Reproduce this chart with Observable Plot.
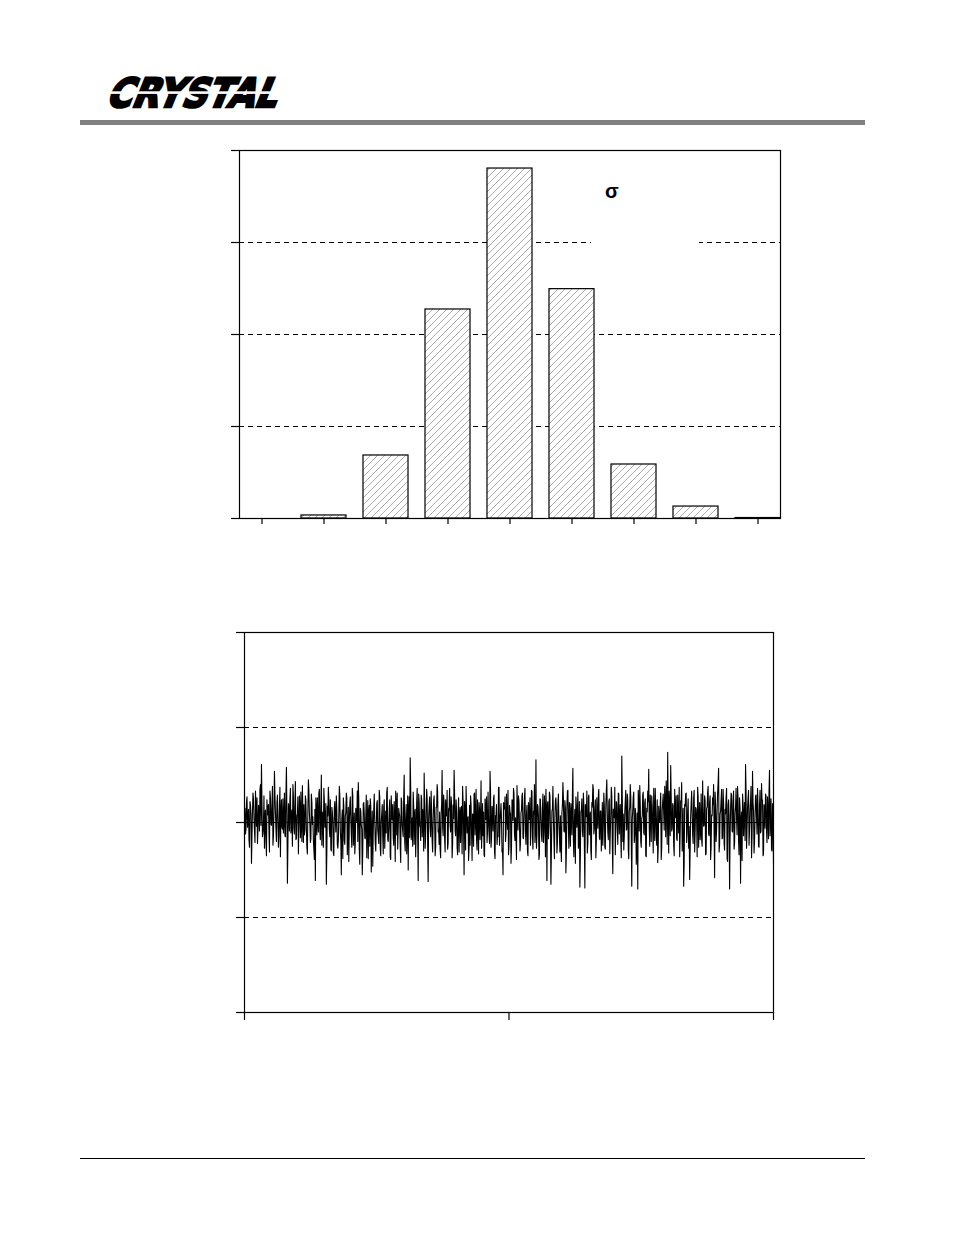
<!DOCTYPE html>
<html><head><meta charset="utf-8">
<script src="https://cdn.jsdelivr.net/npm/d3@7"></script>
<script src="https://cdn.jsdelivr.net/npm/@observablehq/plot@0.6"></script>
<style>
html,body{margin:0;padding:0;background:#fff;}
#page{position:relative;width:954px;height:1235px;overflow:hidden;background:#fff;font-family:"Liberation Sans",Arial,sans-serif;}
.abs{position:absolute;display:block;}
</style></head><body><div id="page">
<svg class="abs" style="left:0;top:0" width="954" height="118">
  <g transform="translate(105,107) skewX(-22)">
    <text x="0" y="0" font-family="DejaVu Sans, sans-serif" font-size="40" font-weight="bold" textLength="170" lengthAdjust="spacingAndGlyphs" fill="#000" stroke="#000" stroke-width="2.6" stroke-linejoin="miter">CRYSTAL</text>
  </g>
  <rect x="95" y="91.3" width="200" height="2.6" fill="#fff"></rect>
</svg>
<div class="abs" style="left:80px;top:120px;width:785px;height:5px;background:#808080"></div>
<div class="abs" style="left:80px;top:1158px;width:785px;height:1px;background:#000"></div>
</div>
<script>
// Histogram: code bins and counts
const codes = ["-4", "-3", "-2", "-1", "0", "1", "2", "3", "4"];
const counts = [0, 33, 685, 2272, 3804, 2493, 587, 130, 5];
const histYTicks = [0, 1000, 2000, 3000, 4000];
const histGrid = [1000, 2000, 3000];

// Noise trace: samples at whole steps
const noise = [
  8, -12, 21, -5, 14, -26, 18, -43, 12, 25, -9, 33, -4, -22, 18, -9, 40, 61, -15, -2,
  -27, 13, -35, 8, 19, -31, 26, -3, 38, -14, 54, 11, -20, 29, -26, 17, -36, 24, -7, -11,
  31, -15, 58, -64, 20, -9, 36, -2, -25, 27, -12, 43, -17, 9, -33, 28, -16, -4, 39, -21,
  -13, 28, -6, -33, 45, 10, -21, 30, -2, -18, -39, -61, 14, 26, -10, 35, -18, 50, 8, -26,
  22, -5, -65, 17, 37, -7, 24, -30, 11, -32, 15, 4, 28, -23, -19, 38, -9, -55, 13, 26,
  -19, 7, 31, -34, 16, -2, 27, -12, 36, -24, 10, -21, 6, 33, 42, -29, 15, -3, -55, 20,
  9, -17, 29, -4, -38, 18, 25, -52, 12, -8, 30, -21, -6, 23, -14, 34, -27, 1, 19, -33,
  24, -8, -11, 37, -20, 13, -36, 28, 3, -16, 22, -41, 17, 31, -7, 10, -25, 26, -2, -15,
  50, -30, 19, -12, -50, 27, 68, -18, 5, 32, -23, 14, -9, 36, -61, 21, -4, 29, -15, 8,
  52, -27, 11, 25, -62, 18, -6, 33, -19, 2, 28, -35, 16, 40, -10, -23, -28, 7, 55, -14,
  20, -31, 9, 34, -22, 13, -3, 27, -37, 18, 55, -8, 24, -26, 4, -31, 16, 11, -33, 22,
  -55, 15, 38, -11, 6, -26, -24, 19, -40, 9, 30, -13, 35, -29, 1, 21, -18, 44, -7, -14,
  -34, 25, 3, -21, 32, -12, 54, -26, 17, -9, 29, -38, 8, -23, -15, 37, -2, 20, -31, -55,
  16, 27, -12, 6, 34, -25, 11, -43, 24, 2, 31, -19, -14, 39, -8, 22, -30, 10, 28, -16,
  5, 36, -23, 18, -35, 13, 26, -6, 33, -28, 9, -21, 66, -14, 17, -39, 25, 4, -20, 30,
  -11, 15, 35, -61, 22, -3, 28, -65, 12, 38, -17, 7, 26, -32, 19, 1, -31, -24, 10, 42,
  -9, 23, -53, 16, 34, -27, 5, 20, -13, 57, -36, 14, 27, -5, 32, -20, -68, 11, 25, -15,
  18, -69, 8, 33, -22, 29, 2, -30, 21, 40, -12, 15, -37, 26, -6, 35, -18, 12, -8, -24,
  31, -26, 17, 45, -10, 22, -33, 9, 28, -54, 14, 37, -4, 19, -23, 30, 7, -16, 70, -20,
  -29, 11, 34, -7, 24, -38, 16, 27, -67, 13, 32, -14, 8, -25, -70, 18, 39, -20, 4, 29,
  -11, 21, -35, 15, 33, 56, -25, 10, 28, -6, 36, -19, 12, -24, -42, 17, 1, 31, -27, 22,
  9, 38, -15, 26, 74, -32, 14, 60, -9, 20, -24, 35, 5, -17, 29, -11, -36, 23, 42, -8,
  -67, 19, 30, -21, 13, -27, -60, 6, 33, -13, 25, -31, 16, 3, 37, -26, 21, -10, -18, 44,
  -4, 28, -34, 15, 32, -12, 22, -39, 8, 26, 40, -58, 18, -7, 31, 57, -23, 12, 35, -16,
  20, -29, 9, 36, -41, 24, -70, 14, 29, -10, 33, -22, 17, 4, 38, -19, 26, -64, 11, 30,
  -14, 21, 61, -27, 16, 34, -8, 23, -37, 54, 12, -20, 28, 6, 36, -25, 18, -11, 41, 24,
  -33, 15, 30, -9, 27, -17, 55, 8, -28, 20, -43
];
// Noise trace: samples at the half steps in between
const noiseHalf = [
  15, -6, 27, 3, -18, 22, 9, -14, 31, 5, -21, 16, 26, -8, 12, 35, -3, 20, -11, 28,
  6, -19, 24, 14, -9, 33, -2, 18, -24, 10, 29, -7, 21, 4, -16, 37, 11, -5, 25, 2,
  -14, 30, 8, -22, 17, 25, -11, 13, 40, -6, 22, -18, 7, 27, -3, 15, 32, -20, 9, 19,
  -8, 23, -26, 12, 34, -1, -17, 21, 6, -29, 14, 26, -13, 3, 31, -9, 18, -24, 11, 36,
  -5, 20, -31, 7, 25, -15, -28, 16, 2, -35, 22, -10, 13, -27, 8, 29, -19, 4, -38, 17,
  -23, 10, 26, -14, -41, 19, 5, -26, 28, -9, -33, 15, 1, -20, 24, -44, 12, -7, -29, 21,
  -16, 6, -37, 23, 11, -25, 18, -12, -46, 14, 3, -30, 20, -8, -22, 27, -35, 9, -15, 16,
  -27, 12, 31, -18, -6, 24, -39, 8, 19, -24, 2, 33, -13, -28, 15, 7, -42, 22, -9, 26,
  -20, 4, -33, 28, 13, -16, 38, -7, -25, 17, 9, -36, 21, -11, 30, -4, -19, 25, 14, -30,
  18, -12, 35, -22, 6, 27, -15, 10, -31, 23, 3, -26, 16, 32, -8, 11, -37, 20, -5, 29,
  -17, 24, 7, -28, 15, 36, -10, 19, -23, 4, 30, -14, 12, -34, 26, 8, -21, 17, 38, -6,
  22, -29, 13, 5, -40, 18, 28, -12, 9, -25, 31, 2, -18, 24, -33, 14, 6, -27, 20, 11,
  -36, 16, 27, -9, 4, -22, 33, -16, 12, 25, -31, 7, 19, -14, 37, -24, 10, 3, -28, 21,
  14, -20, 30, -7, -34, 18, 9, -26, 23, 36, -12, 5, -39, 16, 28, -3, -22, 13, 31, -17,
  26, -11, 8, -30, 21, 3, -24, 34, -15, 12, 40, -8, -27, 19, 6, -33, 24, -13, 15, -21,
  28, -36, 10, 20, -17, 32, -6, -28, 14, 4, -38, 23, 11, -22, 30, -14, 7, -41, 18, 26,
  -10, 15, -30, 33, -4, 21, -25, 9, 29, -19, 2, -43, 17, 8, -27, 22, -35, 13, -8, 31,
  -24, 19, 6, -32, 26, -13, 11, -39, 16, 35, -7, 24, -20, 3, 29, -16, 12, -30, 21, -2,
  17, -28, 33, 8, -18, 25, -10, 37, -23, 14, 5, -34, 22, -6, 31, -12, 19, -37, 26, 9,
  -15, 23, -8, 30, -29, 12, 40, -17, 4, 27, -21, 15, -44, 10, 34, -9, 20, -26, 7, 32,
  -13, 25, -36, 11, 22, -5, 29, -20, 16, -32, 8, 36, -15, 24, -27, 2, 18, -39, 13, 30,
  -8, 21, 44, -23, 9, 33, -14, 26, -6, 18, -35, 12, 28, -19, 4, 37, -11, 22, -30, 15,
  -42, 17, 31, -12, 25, -4, -29, 20, 10, -22, 34, -9, 14, -36, 27, 6, -18, 30, -25, 11,
  -3, 23, -33, 16, 38, -14, 28, -26, 7, 19, -11, 32, -20, 13, 42, -31, 9, 24, -17, 35,
  -22, 14, 27, -38, 18, 6, -16, 31, -9, 22, -28, 10, 36, -13, 25, -34, 15, 3, -40, 20,
  8, -19, 33, -7, 26, -24, 12, 38, -15, 21, -32, 5, 29, -12, 17, -26, 34, -9, 24, -35,
  19, -6, 28, -21, 11, 32, -14, 25, -30, 16
];
const noiseXTicks = [0, 265, 530];
const noiseYTicks = [-200, -100, 0, 100, 200];
const noiseGrid = [-100, 100];

const page = document.getElementById("page");
const blank = () => "";

// ---- Histogram ----
const hist = codes.map((c, i) => ({code: c, count: counts[i]}));
const p1 = Plot.plot({
  width: 954, height: 560,
  marginLeft: 239, marginRight: 174, marginTop: 150, marginBottom: 42,
  style: {background: "transparent", overflow: "visible"},
  x: {type: "band", domain: codes, paddingInner: 0.274, paddingOuter: 0, align: 0.5, round: false},
  y: {domain: [0, 4000]},
  marks: [
    Plot.ruleY(histGrid, {stroke: "black", strokeWidth: 1, strokeDasharray: "5,4"}),
    Plot.barY(hist.filter(d => d.count > 0), {x: "code", y: "count", fill: "url(#hatch)", stroke: "black", strokeWidth: 1.2}),
    Plot.frame({stroke: "black", strokeWidth: 1.2}),
    Plot.axisY({ticks: histYTicks, tickSize: 8, tickFormat: blank, label: null, strokeWidth: 1.2}),
    Plot.axisX({tickSize: 6, tickFormat: blank, label: null, strokeWidth: 1.2})
  ]
});
p1.classList.add("abs");
p1.style.left = "0px"; p1.style.top = "0px";
const defs = d3.select(p1).insert("defs", ":first-child");
const pat = defs.append("pattern").attr("id", "hatch").attr("patternUnits", "userSpaceOnUse")
  .attr("width", 7).attr("height", 7);
pat.append("rect").attr("width", 7).attr("height", 7).attr("fill", "white");
pat.append("path").attr("d", "M-1,8 L8,-1 M-1,1 L1,-1 M6,8 L8,6")
  .attr("stroke", "#888").attr("stroke-width", 0.7).attr("fill", "none");
page.appendChild(p1);

// legend box (mostly blank) with sigma
const leg = d3.select(page).append("svg").attr("class", "abs")
  .style("left", "591px").style("top", "172px").attr("width", 108).attr("height", 84);
leg.append("rect").attr("width", 108).attr("height", 84).attr("fill", "white");
leg.append("text").attr("x", 14).attr("y", 26).attr("font-family", "Liberation Sans, Arial, sans-serif")
  .attr("font-size", 20).attr("font-weight", "bold").text("σ");

// ---- Noise trace ----
const trace = [];
noise.forEach((v, i) => {
  trace.push({t: i, v});
  if (i < noiseHalf.length) trace.push({t: i + 0.5, v: noiseHalf[i]});
});
const p2 = Plot.plot({
  width: 954, height: 440,
  marginLeft: 244, marginRight: 181, marginTop: 32, marginBottom: 28,
  style: {background: "transparent", overflow: "visible"},
  x: {domain: [0, 530]},
  y: {domain: [-200, 200]},
  marks: [
    Plot.ruleY(noiseGrid, {stroke: "black", strokeWidth: 1, strokeDasharray: "5,4"}),
    Plot.line(trace, {x: "t", y: "v", stroke: "black", strokeWidth: 1.1}),
    Plot.ruleY([0], {stroke: "black", strokeWidth: 1.2}),
    Plot.frame({stroke: "black", strokeWidth: 1.2}),
    Plot.axisY({ticks: noiseYTicks, tickSize: 8, tickFormat: blank, label: null, strokeWidth: 1.2}),
    Plot.axisX({ticks: noiseXTicks, tickSize: 8, tickFormat: blank, label: null, strokeWidth: 1.2})
  ]
});
p2.classList.add("abs");
p2.style.left = "0px"; p2.style.top = "600px";
page.appendChild(p2);
</script>
</body></html>
